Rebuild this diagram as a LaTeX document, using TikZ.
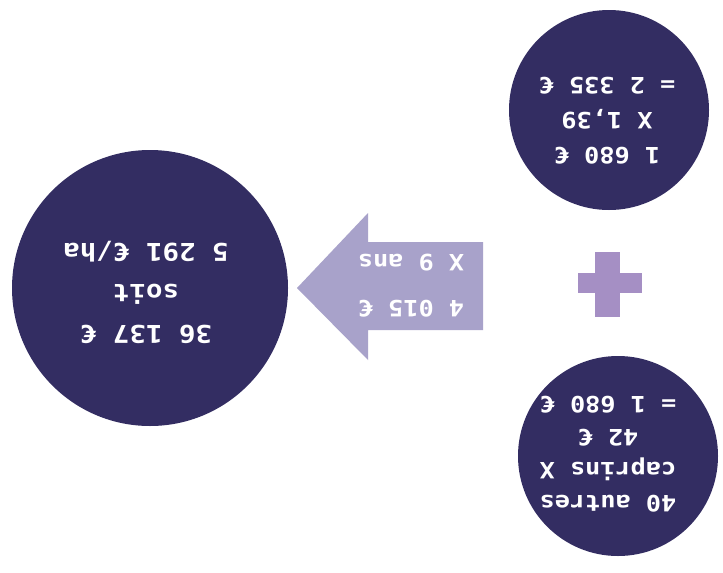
\documentclass[tikz,border=0pt]{standalone}
\usepackage{fontspec}
\newfontfamily\monob[FakeStretch=1.12]{DejaVu Sans Mono}
\definecolor{navy}{HTML}{332D62}
\definecolor{arrowc}{HTML}{A8A2CA}
\definecolor{plusc}{HTML}{A58FC4}
\tikzset{
  disc/.style={circle, fill=navy, draw=none, inner sep=0pt},
  label/.style={text=white, font=\monob\bfseries, align=center, rotate=180, inner sep=0pt},
}
\begin{document}
\begin{tikzpicture}[x=1pt,y=-1pt]
\useasboundingbox (0,0) rectangle (723,573);
\fill[white] (0,0) rectangle (723,573);
% circles
\node[disc, minimum size=276pt] (big) at (150,288) {};
\node[disc, minimum size=200pt] (tr) at (609,110) {};
\node[disc, minimum size=200pt] (br) at (618,456) {};
% arrow
\fill[arrowc] (483,242) -- (368,242) -- (368,213) -- (297,288) -- (368,360) -- (368,330) -- (483,330) -- cycle;
% plus
\fill[plusc] (595,252) rectangle (620,317);
\fill[plusc] (578,273) rectangle (642,293);
% texts
\node[label, font=\monob\bfseries\fontsize{24.5}{41}\selectfont] (tbig) at (146,292) {36 137 €\\soit\\5 291 €/ha};
\node[label, font=\monob\bfseries\fontsize{22.5}{35}\selectfont] (ttr) at (607,121) {1 680 €\\X 1,39\\= 2 335 €};
\node[label, font=\monob\bfseries\fontsize{22.5}{33}\selectfont] (tbr) at (608,454) {40 autres\\caprins X\\42 €\\=  1 680 €};
\node[label, font=\monob\bfseries\fontsize{22.5}{46}\selectfont] (tarr) at (411,286) {4 015 €\\X 9 ans};
\end{tikzpicture}
\end{document}
